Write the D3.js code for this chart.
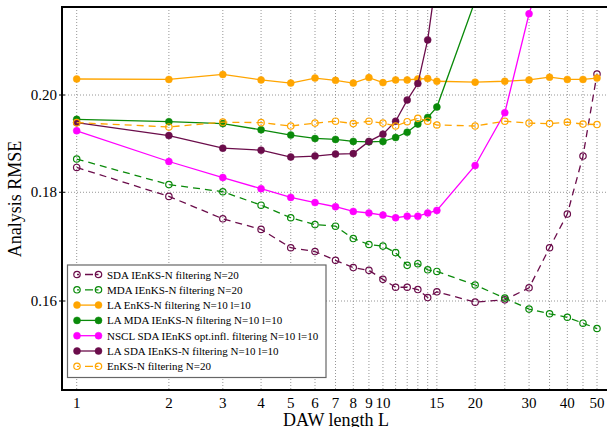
<!DOCTYPE html>
<html>
<head>
<meta charset="utf-8">
<script src="https://cdn.jsdelivr.net/npm/d3@7"></script>
<style>
  body { margin: 0; background: #fff; }
  svg { display: block; font-family: "Liberation Serif", "DejaVu Serif", serif; }
</style>
</head>
<body>
<script>
const w = 607;
const h = 427;

// DAW lengths
const L = [1, 2, 3, 4, 5, 6, 7, 8, 9, 10, 11, 12, 13, 14, 15, 20, 25, 30, 35, 40, 45, 50];

const sdaN20   = [0.1849, 0.1792, 0.1749, 0.1729, 0.1695, 0.1688, 0.1672, 0.1659, 0.1654, 0.1638, 0.1624,
                  0.1624, 0.1620, 0.1606, 0.1616, 0.1598, 0.1602, 0.1623, 0.1695, 0.1758, 0.1872, 0.2046];
const mdaN20   = [0.1866, 0.1815, 0.1801, 0.1775, 0.1751, 0.1738, 0.1735, 0.1712, 0.1701, 0.1698, 0.1686,
                  0.1663, 0.1666, 0.1655, 0.1652, 0.1628, 0.1605, 0.1586, 0.1578, 0.1572, 0.1562, 0.1553];
const laEnks   = [0.2035, 0.2034, 0.2045, 0.2033, 0.2026, 0.2037, 0.2032, 0.2026, 0.2038, 0.2027, 0.2033,
                  0.2033, 0.2035, 0.2036, 0.2030, 0.2028, 0.2030, 0.2033, 0.2039, 0.2034, 0.2034, 0.2037];
const laMda    = [0.1948, 0.1943, 0.1939, 0.1926, 0.1915, 0.1908, 0.1906, 0.1902, 0.1901, 0.1902, 0.1910,
                  0.1921, 0.1938, 0.1952, 0.1974, 0.2215];
const nsclSda  = [0.1924, 0.1861, 0.1829, 0.1807, 0.1790, 0.1780, 0.1772, 0.1763, 0.1760, 0.1756, 0.1751,
                  0.1754, 0.1754, 0.1760, 0.1765, 0.1853, 0.1962, 0.2184, 0.2340];
const laSda    = [0.1941, 0.1914, 0.1888, 0.1884, 0.1870, 0.1872, 0.1876, 0.1877, 0.1902, 0.1917, 0.1944,
                  0.1989, 0.2025, 0.2123, 0.2280];
const enksN20  = [0.1941, 0.1932, 0.1942, 0.1941, 0.1934, 0.1940, 0.1944, 0.1939, 0.1944, 0.1940, 0.1934,
                  0.1943, 0.1950, 0.1944, 0.1936, 0.1934, 0.1944, 0.1940, 0.1939, 0.1942, 0.1938, 0.1937];

const xTicks = [1, 2, 3, 4, 5, 6, 7, 8, 9, 10, 15, 20, 30, 40, 50];
const yTicks = [0.16, 0.18, 0.20];

const seriesNames = [
  "SDA IEnKS-N filtering N=20",
  "MDA IEnKS-N filtering N=20",
  "LA EnKS-N filtering N=10 l=10",
  "LA MDA IEnKS-N filtering N=10 l=10",
  "NSCL SDA IEnKS opt.infl. filtering N=10 l=10",
  "LA SDA IEnKS-N filtering N=10 l=10",
  "EnKS-N filtering N=20"
];
const seriesValues = [sdaN20, mdaN20, laEnks, laMda, nsclSda, laSda, enksN20];
const seriesColor = ["#6b0d4b", "#0a8a0a", "#ffa500", "#0a8a0a", "#ff00ff", "#6b0d4b", "#ffa500"];
const seriesOpen = [true, true, false, false, false, false, true];

// plot frame (right side runs past the window)
const pLeft = 62, pTop = 7, pBottom = 390, pRight = 640;

const xScale = d3.scaleLog().domain([1, 50]).range([76.7, 597]);
const yScale = d3.scaleLog().domain([0.16, 0.20]).range([301, 95]);

const svg = d3.select("body").append("svg")
  .attr("width", w)
  .attr("height", h);

svg.append("clipPath").attr("id", "clip")
  .append("rect")
  .attr("x", pLeft).attr("y", pTop)
  .attr("width", pRight - pLeft).attr("height", pBottom - pTop);

// grid
const grid = svg.append("g").attr("stroke", "#8a8a8a").attr("stroke-width", 0.9).attr("stroke-dasharray", "1,2");
grid.selectAll("line.vx")
  .data(L)
  .enter().append("line")
  .attr("class", "vx")
  .attr("x1", d => xScale(d)).attr("x2", d => xScale(d))
  .attr("y1", pTop).attr("y2", pBottom);
grid.selectAll("line.hy")
  .data(yTicks)
  .enter().append("line")
  .attr("class", "hy")
  .attr("x1", pLeft).attr("x2", pRight)
  .attr("y1", d => yScale(d)).attr("y2", d => yScale(d));

// series
const line = d3.line()
  .x((d, i) => xScale(L[i]))
  .y(d => yScale(d));

const plot = svg.append("g").attr("clip-path", "url(#clip)");

seriesValues.forEach((vals, k) => {
  const g = plot.append("g");
  g.append("path")
    .datum(vals)
    .attr("d", line)
    .attr("fill", "none")
    .attr("stroke", seriesColor[k])
    .attr("stroke-width", 1.3)
    .attr("stroke-dasharray", seriesOpen[k] ? "7,5" : null);
  g.selectAll("circle")
    .data(vals)
    .enter().append("circle")
    .attr("cx", (d, i) => xScale(L[i]))
    .attr("cy", d => yScale(d))
    .attr("r", seriesOpen[k] ? 3.2 : 3.5)
    .attr("fill", seriesOpen[k] ? "none" : seriesColor[k])
    .attr("stroke", seriesColor[k])
    .attr("stroke-width", seriesOpen[k] ? 1.2 : 0.5);
});

// frame
svg.append("path")
  .attr("d", "M" + pRight + "," + pTop + "H" + pLeft + "V" + pBottom + "H" + pRight)
  .attr("fill", "none")
  .attr("stroke", "#000")
  .attr("stroke-width", 2);

// y ticks
svg.selectAll("line.ytick")
  .data(yTicks)
  .enter().append("line")
  .attr("class", "ytick")
  .attr("x1", pLeft - 3).attr("x2", pLeft + 3)
  .attr("y1", d => yScale(d)).attr("y2", d => yScale(d))
  .attr("stroke", "#000").attr("stroke-width", 1);

svg.selectAll("text.ylab")
  .data(yTicks)
  .enter().append("text")
  .attr("class", "ylab")
  .attr("x", pLeft - 5)
  .attr("y", d => yScale(d) + 5)
  .attr("text-anchor", "end")
  .style("font-size", "15px")
  .text(d => d3.format(".2f")(d));

svg.selectAll("text.xlab")
  .data(xTicks)
  .enter().append("text")
  .attr("class", "xlab")
  .attr("x", d => xScale(d))
  .attr("y", 408)
  .attr("text-anchor", "middle")
  .style("font-size", "15px")
  .text(d => d);

svg.append("text")
  .attr("x", 336)
  .attr("y", 426)
  .attr("text-anchor", "middle")
  .style("font-size", "18px")
  .text("DAW length L");

svg.append("text")
  .attr("transform", "translate(21,199) rotate(-90)")
  .attr("text-anchor", "middle")
  .style("font-size", "18px")
  .text("Analysis RMSE");

// legend
const lg = svg.append("g");
lg.append("rect")
  .attr("x", 67.5).attr("y", 265)
  .attr("width", 258.5).attr("height", 112.5)
  .attr("fill", "#fff")
  .attr("stroke", "#666")
  .attr("stroke-width", 1.2);

const rows = lg.selectAll("g.row")
  .data(seriesNames)
  .enter().append("g")
  .attr("class", "row")
  .attr("transform", (d, i) => "translate(0," + (274.5 + i * 15.3) + ")");

rows.append("line")
  .attr("x1", 77).attr("x2", 98.5)
  .attr("y1", 0).attr("y2", 0)
  .attr("stroke", (d, i) => seriesColor[i])
  .attr("stroke-width", 1.3)
  .attr("stroke-dasharray", (d, i) => seriesOpen[i] ? "2,6,8" : null);

rows.selectAll("circle")
  .data((d, i) => [[77, i], [98.5, i]])
  .enter().append("circle")
  .attr("cx", d => d[0]).attr("cy", 0)
  .attr("r", d => seriesOpen[d[1]] ? 3.2 : 3.5)
  .attr("fill", d => seriesOpen[d[1]] ? "none" : seriesColor[d[1]])
  .attr("stroke", d => seriesColor[d[1]])
  .attr("stroke-width", d => seriesOpen[d[1]] ? 1.2 : 0.5);

rows.append("text")
  .attr("x", 107)
  .attr("y", 4)
  .style("font-size", "11px")
  .text(d => d);
</script>
</body>
</html>
